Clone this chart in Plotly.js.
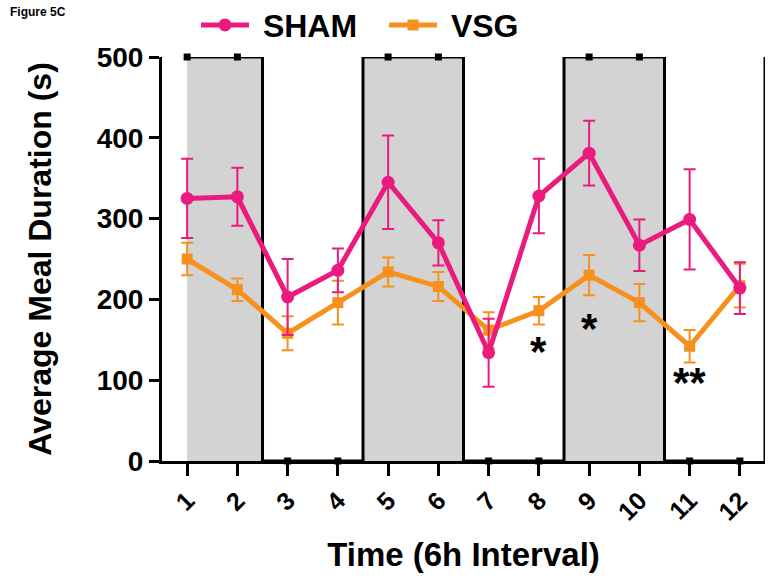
<!DOCTYPE html>
<html>
<head>
<meta charset="utf-8">
<script src="https://cdn.plot.ly/plotly-3.0.1.min.js"></script>
<style>html,body{margin:0;padding:0;background:#fff;}#chart{width:781px;height:580px;}</style>
</head>
<body>
<div id="chart"></div>
<script>
// Data
const intervals = [1, 2, 3, 4, 5, 6, 7, 8, 9, 10, 11, 12];
const tickLabels = ['1', '2', '3', '4', '5', '6', '7', '8', '9', '10', '11', '12'];
const shamMean = [325, 327, 203, 236, 345, 270, 134, 328, 381, 267, 299, 214];
const shamErr  = [49, 36, 47, 27, 58, 28, 42, 46, 40, 32, 62, 32];
const vsgMean  = [250, 212, 158, 196, 234, 216, 162, 186, 230, 196, 142, 217];
const vsgErr   = [20, 14, 21, 27, 18, 18, 22, 17, 25, 23, 20, 27];
const darkPhase = [500, 500, 0, 0, 500, 500, 0, 0, 500, 500, 0, 0];
const sigX = [8, 9, 11];
const sigY = [143, 171, 104];
const sigText = ['*', '*', '**'];

const FONT = 'Liberation Sans, Arial, sans-serif';
const PINK = '#EA1B7C';
const ORANGE = '#F7911E';

const traces = [
  {
    x: intervals, y: darkPhase, type: 'scatter', mode: 'lines+markers',
    line: {shape: 'hvh', color: '#000', width: 3},
    marker: {symbol: 'square', size: 7, color: '#000'},
    fill: 'tozeroy', fillcolor: '#D3D3D3',
    showlegend: false, cliponaxis: false, hoverinfo: 'skip'
  },
  {
    x: intervals, y: vsgMean, name: '\u00A0VSG', type: 'scatter', mode: 'lines+markers',
    line: {color: ORANGE, width: 5},
    marker: {symbol: 'square', size: 11, color: ORANGE},
    error_y: {type: 'data', array: vsgErr, visible: true, color: ORANGE, thickness: 2, width: 6},
    legendrank: 2, cliponaxis: false
  },
  {
    x: intervals, y: shamMean, name: '\u00A0SHAM', type: 'scatter', mode: 'lines+markers',
    line: {color: PINK, width: 5},
    marker: {symbol: 'circle', size: 13, color: PINK},
    error_y: {type: 'data', array: shamErr, visible: true, color: PINK, thickness: 2, width: 6},
    legendrank: 1, cliponaxis: false
  }
];

const annotations = sigX.map((x, i) => ({
  x: x, y: sigY[i], xref: 'x', yref: 'y', text: '<b>' + sigText[i] + '</b>',
  showarrow: false, font: {family: FONT, size: 42, color: '#000'}, yshift: -6
}));
annotations.push({
  xref: 'paper', yref: 'paper', x: -0.255, y: 1.111, xanchor: 'left', yanchor: 'middle',
  text: '<b>Figure 5C</b>', showarrow: false, font: {family: FONT, size: 12, color: '#000'}
});

const layout = {
  width: 781, height: 580,
  margin: {l: 162, r: 16, t: 57, b: 119, autoexpand: false},
  paper_bgcolor: '#fff', plot_bgcolor: '#fff',
  font: {family: FONT, color: '#000'},
  showlegend: true,
  legend: {
    orientation: 'h', x: 0.0564, y: 1.079, xanchor: 'left', yanchor: 'middle',
    font: {family: FONT, size: 32, color: '#000', weight: 'bold'},
    itemwidth: 48, entrywidth: 125, entrywidthmode: 'pixels', bgcolor: 'rgba(0,0,0,0)'
  },
  xaxis: {
    range: [0.5, 12.5], tickmode: 'array', tickvals: intervals, ticktext: tickLabels,
    tickangle: -45, ticks: 'outside', ticklen: 12, tickwidth: 3, tickcolor: '#000',
    showline: true, linewidth: 3, linecolor: '#000', showgrid: false, zeroline: false,
    tickfont: {family: FONT, size: 25, color: '#000', weight: 'bold'},
    title: {text: 'Time (6h Interval)', font: {family: FONT, size: 33, color: '#000', weight: 'bold'}, standoff: 19}
  },
  yaxis: {
    range: [0, 500], tickmode: 'array', tickvals: [0, 100, 200, 300, 400, 500],
    ticks: 'outside', ticklen: 10, tickwidth: 3, tickcolor: '#000',
    showline: true, linewidth: 3, linecolor: '#000', showgrid: false, zeroline: false,
    tickfont: {family: FONT, size: 28, color: '#000', weight: 'bold'},
    title: {text: 'Average Meal Duration (s)', font: {family: FONT, size: 32, color: '#000', weight: 'bold'}, standoff: 36}
  },
  shapes: [
    {type: 'line', xref: 'x', yref: 'y', x0: 12.5, x1: 12.5, y0: 0, y1: 500, line: {color: '#000', width: 3}}
  ],
  annotations: annotations
};

Plotly.newPlot('chart', traces, layout, {displayModeBar: false, staticPlot: true});
</script>
</body>
</html>
